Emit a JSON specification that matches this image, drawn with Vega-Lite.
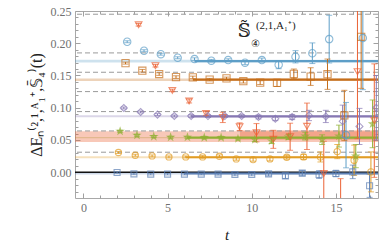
{
"$schema": "https://vega.github.io/schema/vega-lite/v6.json",
"width": 303, "height": 187,
"autosize": "none",
"padding": {"left": 75, "top": 11, "right": 12, "bottom": 50},
"background": "white",
"config": {
 "view": {"stroke": "#a8a8a8", "strokeWidth": 1},
 "axis": {"grid": false, "domain": false, "tickColor": "#a0a0a0", "tickWidth": 1, "labelColor": "#707070", "labelFont": "Liberation Serif", "labelFontSize": 12, "titleFont": "Liberation Serif", "titleFontWeight": "normal", "titleColor": "#222"}
},
"resolve": {"axis": {"x": "independent", "y": "independent"}},
"datasets": {
 "pts": [
  {"s":"1","t":2,"v":-0.0005,"lo":-0.0017,"hi":0.0007},
  {"s":"1","t":3,"v":-0.0026,"lo":-0.0038,"hi":-0.0014},
  {"s":"1","t":4,"v":-0.003,"lo":-0.0042,"hi":-0.0018},
  {"s":"1","t":5,"v":-0.003,"lo":-0.0042,"hi":-0.0018},
  {"s":"1","t":6,"v":-0.003,"lo":-0.0042,"hi":-0.0018},
  {"s":"1","t":7,"v":-0.003,"lo":-0.0042,"hi":-0.0018},
  {"s":"1","t":8,"v":-0.003,"lo":-0.0045,"hi":-0.0015},
  {"s":"1","t":9,"v":-0.0036,"lo":-0.0056,"hi":-0.0016},
  {"s":"1","t":10,"v":-0.0036,"lo":-0.0056,"hi":-0.0016},
  {"s":"1","t":11,"v":-0.0026,"lo":-0.0056,"hi":0.0004},
  {"s":"1","t":12,"v":-0.0057,"lo":-0.0097,"hi":-0.0017},
  {"s":"1","t":13,"v":-0.0015,"lo":-0.0055,"hi":0.0025},
  {"s":"1","t":14,"v":-0.0036,"lo":-0.0096,"hi":0.0024},
  {"s":"1","t":15,"v":-0.002,"lo":-0.007,"hi":0.003},
  {"s":"1","t":16,"v":0.0005,"lo":-0.01,"hi":0.011},
  {"s":"1","t":17,"v":-0.021,"lo":-0.039,"hi":-0.003},
  {"s":"2","t":2.08,"v":0.0305,"lo":0.029,"hi":0.032},
  {"s":"2","t":3.08,"v":0.0263,"lo":0.0248,"hi":0.0278},
  {"s":"2","t":4.08,"v":0.0253,"lo":0.0238,"hi":0.0268},
  {"s":"2","t":5.08,"v":0.0237,"lo":0.0222,"hi":0.0252},
  {"s":"2","t":6.08,"v":0.0237,"lo":0.0222,"hi":0.0252},
  {"s":"2","t":7.08,"v":0.0237,"lo":0.0217,"hi":0.0257},
  {"s":"2","t":8.08,"v":0.0248,"lo":0.0228,"hi":0.0268},
  {"s":"2","t":9.08,"v":0.0206,"lo":0.0186,"hi":0.0226},
  {"s":"2","t":10.08,"v":0.0196,"lo":0.0171,"hi":0.0221},
  {"s":"2","t":11.08,"v":0.0206,"lo":0.0176,"hi":0.0236},
  {"s":"2","t":12.08,"v":0.0232,"lo":0.0202,"hi":0.0262},
  {"s":"2","t":13.08,"v":0.0237,"lo":0.0197,"hi":0.0277},
  {"s":"2","t":14.08,"v":0.0237,"lo":0.0159,"hi":0.0315},
  {"s":"2","t":15.08,"v":0.032,"lo":0.021,"hi":0.043},
  {"s":"2","t":16.08,"v":0.0185,"lo":-0.005,"hi":0.042},
  {"s":"2","t":17.08,"v":0.0005,"lo":-0.0305,"hi":0.0315},
  {"s":"3","t":2.18,"v":0.0635,"lo":0.062,"hi":0.065},
  {"s":"3","t":3.18,"v":0.0573,"lo":0.0558,"hi":0.0588},
  {"s":"3","t":4.18,"v":0.0552,"lo":0.0537,"hi":0.0567},
  {"s":"3","t":5.18,"v":0.0542,"lo":0.0527,"hi":0.0557},
  {"s":"3","t":6.18,"v":0.0542,"lo":0.0527,"hi":0.0557},
  {"s":"3","t":7.18,"v":0.0537,"lo":0.0517,"hi":0.0557},
  {"s":"3","t":8.18,"v":0.0537,"lo":0.0517,"hi":0.0557},
  {"s":"3","t":9.18,"v":0.052,"lo":0.05,"hi":0.054},
  {"s":"3","t":10.18,"v":0.0505,"lo":0.0475,"hi":0.0535},
  {"s":"3","t":11.18,"v":0.0485,"lo":0.0445,"hi":0.0525},
  {"s":"3","t":12.18,"v":0.0547,"lo":0.0507,"hi":0.0587},
  {"s":"3","t":13.18,"v":0.056,"lo":0.05,"hi":0.062},
  {"s":"3","t":14.18,"v":0.0505,"lo":0.043,"hi":0.058},
  {"s":"3","t":15.18,"v":0.056,"lo":0.039,"hi":0.073},
  {"s":"3","t":16.18,"v":0.025,"lo":0.007,"hi":0.043},
  {"s":"3","t":17.18,"v":0.075,"lo":0.038,"hi":0.112},
  {"s":"4","t":3.28,"v":0.2286,"lo":0.2266,"hi":0.2306},
  {"s":"4","t":4.28,"v":0.1651,"lo":0.1631,"hi":0.1671},
  {"s":"4","t":5.28,"v":0.1269,"lo":0.1249,"hi":0.1289},
  {"s":"4","t":6.28,"v":0.1104,"lo":0.1074,"hi":0.1134},
  {"s":"4","t":7.28,"v":0.0912,"lo":0.0882,"hi":0.0942},
  {"s":"4","t":8.28,"v":0.085,"lo":0.077,"hi":0.093},
  {"s":"4","t":9.28,"v":0.0705,"lo":0.0645,"hi":0.0765},
  {"s":"4","t":10.28,"v":0.0612,"lo":0.047,"hi":0.0754},
  {"s":"4","t":11.28,"v":0.051,"lo":0.037,"hi":0.065},
  {"s":"4","t":12.28,"v":0.055,"lo":0.034,"hi":0.076},
  {"s":"4","t":13.28,"v":0.0712,"lo":0.0352,"hi":0.1072},
  {"s":"4","t":14.28,"v":-0.002,"lo":-0.052,"hi":0.048},
  {"s":"4","t":15.28,"v":-0.06,"lo":-0.11,"hi":-0.01},
  {"s":"4","t":16.28,"v":0.156,"lo":0.052,"hi":0.26},
  {"s":"4","t":17.28,"v":0.08,"lo":-0.008,"hi":0.168},
  {"s":"5","t":2.4,"v":0.0996,"lo":0.0981,"hi":0.1011},
  {"s":"5","t":3.4,"v":0.0934,"lo":0.0919,"hi":0.0949},
  {"s":"5","t":4.4,"v":0.0893,"lo":0.0878,"hi":0.0908},
  {"s":"5","t":5.4,"v":0.0872,"lo":0.0857,"hi":0.0887},
  {"s":"5","t":6.4,"v":0.0872,"lo":0.0852,"hi":0.0892},
  {"s":"5","t":7.4,"v":0.087,"lo":0.085,"hi":0.089},
  {"s":"5","t":8.4,"v":0.087,"lo":0.085,"hi":0.089},
  {"s":"5","t":9.4,"v":0.0872,"lo":0.0852,"hi":0.0892},
  {"s":"5","t":10.4,"v":0.0856,"lo":0.0826,"hi":0.0886},
  {"s":"5","t":11.4,"v":0.083,"lo":0.08,"hi":0.086},
  {"s":"5","t":12.4,"v":0.0856,"lo":0.0816,"hi":0.0896},
  {"s":"5","t":13.4,"v":0.088,"lo":0.08,"hi":0.096},
  {"s":"5","t":14.4,"v":0.0865,"lo":0.077,"hi":0.096},
  {"s":"5","t":15.4,"v":0.079,"lo":0.054,"hi":0.104},
  {"s":"5","t":16.4,"v":0.071,"lo":0.043,"hi":0.099},
  {"s":"5","t":17.4,"v":0.1,"lo":0.05,"hi":0.15},
  {"s":"6","t":2.5,"v":0.1692,"lo":0.1677,"hi":0.1707},
  {"s":"6","t":3.5,"v":0.1574,"lo":0.1554,"hi":0.1594},
  {"s":"6","t":4.5,"v":0.1522,"lo":0.1502,"hi":0.1542},
  {"s":"6","t":5.5,"v":0.1475,"lo":0.1455,"hi":0.1495},
  {"s":"6","t":6.5,"v":0.147,"lo":0.145,"hi":0.149},
  {"s":"6","t":7.5,"v":0.1435,"lo":0.1415,"hi":0.1455},
  {"s":"6","t":8.5,"v":0.1455,"lo":0.1435,"hi":0.1475},
  {"s":"6","t":9.5,"v":0.1413,"lo":0.1383,"hi":0.1443},
  {"s":"6","t":10.5,"v":0.1389,"lo":0.1359,"hi":0.1419},
  {"s":"6","t":11.5,"v":0.1385,"lo":0.133,"hi":0.144},
  {"s":"6","t":12.5,"v":0.1525,"lo":0.145,"hi":0.16},
  {"s":"6","t":13.5,"v":0.1483,"lo":0.1346,"hi":0.162},
  {"s":"6","t":14.5,"v":0.152,"lo":0.1285,"hi":0.1755},
  {"s":"6","t":15.5,"v":0.088,"lo":0.049,"hi":0.127},
  {"s":"6","t":16.5,"v":0.21,"lo":0.13,"hi":0.29},
  {"s":"7","t":2.6,"v":0.2023,"lo":0.2008,"hi":0.2038},
  {"s":"7","t":3.6,"v":0.1884,"lo":0.1869,"hi":0.1899},
  {"s":"7","t":4.6,"v":0.183,"lo":0.1815,"hi":0.1845},
  {"s":"7","t":5.6,"v":0.1775,"lo":0.176,"hi":0.179},
  {"s":"7","t":6.6,"v":0.1754,"lo":0.1734,"hi":0.1774},
  {"s":"7","t":7.6,"v":0.1729,"lo":0.1709,"hi":0.1749},
  {"s":"7","t":8.6,"v":0.1739,"lo":0.1719,"hi":0.1759},
  {"s":"7","t":9.6,"v":0.1698,"lo":0.1668,"hi":0.1728},
  {"s":"7","t":10.6,"v":0.1739,"lo":0.1709,"hi":0.1769},
  {"s":"7","t":11.6,"v":0.1667,"lo":0.1605,"hi":0.1729},
  {"s":"7","t":12.6,"v":0.179,"lo":0.1695,"hi":0.1885},
  {"s":"7","t":13.6,"v":0.1845,"lo":0.1685,"hi":0.2005},
  {"s":"7","t":14.6,"v":0.2064,"lo":0.1694,"hi":0.2434},
  {"s":"7","t":15.6,"v":0.0575,"lo":0.0068,"hi":0.1082},
  {"s":"7","t":16.6,"v":0.208,"lo":0.128,"hi":0.288}
 ],
 "fits": [
  {"s":"1","c":-0.002,"lo":-0.0035,"hi":-0.0005,"tmin":6.0},
  {"s":"2","c":0.0232,"lo":0.0217,"hi":0.0247,"tmin":6.1},
  {"s":"3","c":0.0537,"lo":0.0527,"hi":0.0547,"tmin":6.2},
  {"s":"5","c":0.0867,"lo":0.0852,"hi":0.0882,"tmin":6.4},
  {"s":"6","c":0.1435,"lo":0.1415,"hi":0.1455,"tmin":6.5},
  {"s":"7","c":0.1723,"lo":0.1703,"hi":0.1743,"tmin":6.6}
 ],
 "band": [
  {"s":"4","part":"all","lo":0.047,"hi":0.0635,"tmin":-0.5},
  {"s":"4","part":"fit","lo":0.0505,"hi":0.065,"tmin":9.3}
 ],
 "dash": [{"v":0.245},{"v":0.185},{"v":0.155},{"v":0.125},{"v":0.094},{"v":0.064},{"v":0.031}],
 "zero": [{"v":0}],
 "notes": [
  {"part":"main","t":9.55,"v":0.2175,"label":"𝕊̃"},
  {"part":"sub","t":10.2,"v":0.1985,"label":"④"},
  {"part":"sup","t":10.25,"v":0.2265,"label":"(2,1,A₁⁺)"}
 ]
},
"layer": [
 {"data": {"name": "fits"}, "mark": {"type": "rect", "opacity": 0.3},
  "encoding": {
   "x": {"datum": -0.5, "type": "quantitative", "scale": {"domain": [-0.5, 17.5], "nice": false, "zero": false}, "axis": null},
   "x2": {"datum": 17.5},
   "y": {"field": "lo", "type": "quantitative", "scale": {"domain": [-0.04, 0.25], "nice": false, "zero": false}, "axis": null},
   "y2": {"field": "hi"},
   "color": {"field": "s", "type": "nominal", "legend": null, "scale": {"domain": ["1","2","3","4","5","6","7"], "range": ["#5E81B5","#E19C24","#8FB032","#EB6235","#8778B3","#C56E1A","#5D9EC7"]}}
  }},
 {"data": {"name": "band"}, "mark": {"type": "rect", "opacity": 0.35, "color": "#EB6235"},
  "encoding": {
   "x": {"field": "tmin", "type": "quantitative", "axis": null},
   "x2": {"datum": 17.5},
   "y": {"field": "lo", "type": "quantitative", "axis": null},
   "y2": {"field": "hi"}
  }},
 {"data": {"name": "dash"}, "mark": {"type": "rule", "color": "#9a9a9a", "strokeDash": [5, 3], "strokeWidth": 1},
  "encoding": {
   "y": {"field": "v", "type": "quantitative", "axis": {"orient": "left", "values": [0, 0.05, 0.1, 0.15, 0.2, 0.25], "format": ".2f", "tickSize": -5, "labelPadding": 9, "title": "ΔEₙ⁽²,¹,ᴬ₁⁺,𝕊̄₄⁾(t)", "titleFontSize": 16, "titlePadding": 6}}
  }},
 {"data": {"name": "zero"}, "mark": {"type": "rule", "color": "#111", "strokeWidth": 1.4},
  "encoding": {"y": {"field": "v", "type": "quantitative", "axis": null}}},
 {"data": {"name": "fits"}, "mark": {"type": "rule", "strokeWidth": 2.2},
  "encoding": {
   "x": {"field": "tmin", "type": "quantitative", "axis": null},
   "x2": {"datum": 17.5},
   "y": {"field": "c", "type": "quantitative", "axis": null},
   "color": {"field": "s", "type": "nominal", "legend": null}
  }},
 {"data": {"name": "pts"}, "mark": {"type": "rule", "strokeWidth": 1, "clip": true},
  "encoding": {
   "x": {"field": "t", "type": "quantitative", "axis": {"orient": "bottom", "values": [0, 5, 10, 15], "tickSize": -5, "labelPadding": 9, "title": "t", "titleFontStyle": "italic", "titleFontSize": 15, "titlePadding": 14}},
   "y": {"field": "lo", "type": "quantitative", "axis": {"orient": "left", "values": [-0.03,-0.02,-0.01,0.01,0.02,0.03,0.04,0.06,0.07,0.08,0.09,0.11,0.12,0.13,0.14,0.16,0.17,0.18,0.19,0.21,0.22,0.23,0.24], "tickSize": -3, "labels": false, "title": null}},
   "y2": {"field": "hi"},
   "color": {"field": "s", "type": "nominal", "legend": null}
  }},
 {"data": {"name": "pts"}, "mark": {"type": "tick", "orient": "horizontal", "size": 6, "thickness": 1, "clip": true},
  "encoding": {
   "x": {"field": "t", "type": "quantitative", "axis": {"orient": "bottom", "values": [1,2,3,4,6,7,8,9,11,12,13,14,16,17], "tickSize": -3, "labels": false, "title": null}},
   "y": {"field": "lo", "type": "quantitative", "axis": {"orient": "right", "values": [0, 0.05, 0.1, 0.15, 0.2, 0.25], "tickSize": -5, "labels": false, "title": null}},
   "color": {"field": "s", "type": "nominal", "legend": null}
  }},
 {"data": {"name": "pts"}, "mark": {"type": "tick", "orient": "horizontal", "size": 6, "thickness": 1, "clip": true},
  "encoding": {
   "x": {"field": "t", "type": "quantitative", "axis": {"orient": "top", "values": [0, 5, 10, 15], "tickSize": -5, "labels": false, "title": null}},
   "y": {"field": "hi", "type": "quantitative", "axis": {"orient": "right", "values": [-0.03,-0.02,-0.01,0.01,0.02,0.03,0.04,0.06,0.07,0.08,0.09,0.11,0.12,0.13,0.14,0.16,0.17,0.18,0.19,0.21,0.22,0.23,0.24], "tickSize": -3, "labels": false, "title": null}},
   "color": {"field": "s", "type": "nominal", "legend": null}
  }},
 {"data": {"name": "pts"}, "mark": {"type": "point", "filled": false, "strokeWidth": 1.1, "clip": true},
  "encoding": {
   "x": {"field": "t", "type": "quantitative", "axis": {"orient": "top", "values": [1,2,3,4,6,7,8,9,11,12,13,14,16,17], "tickSize": -3, "labels": false, "title": null}},
   "y": {"field": "v", "type": "quantitative", "axis": null},
   "color": {"field": "s", "type": "nominal", "legend": null},
   "shape": {"field": "s", "type": "nominal", "legend": null, "scale": {"domain": ["1","2","3","4","5","6","7"], "range": ["square", "circle", "M0,-1L0.2245,-0.309L0.951,-0.309L0.363,0.118L0.588,0.809L0,0.382L-0.588,0.809L-0.363,0.118L-0.951,-0.309L-0.2245,-0.309Z", "triangle-down", "diamond", "square", "circle"]}},
   "size": {"field": "s", "type": "nominal", "legend": null, "scale": {"domain": ["1","2","3","4","5","6","7"], "range": [36, 55, 50, 36, 30, 40, 22]}}
  }},
 {"data": {"name": "notes"}, "transform": [{"filter": "datum.part === 'main'"}],
  "mark": {"type": "text", "font": "DejaVu Serif", "fontSize": 18, "align": "center", "baseline": "middle", "color": "#222"},
  "encoding": {"x": {"field": "t", "type": "quantitative", "axis": null}, "y": {"field": "v", "type": "quantitative", "axis": null}, "text": {"field": "label"}}},
 {"data": {"name": "notes"}, "transform": [{"filter": "datum.part === 'sub'"}],
  "mark": {"type": "text", "font": "DejaVu Serif", "fontSize": 10, "align": "center", "baseline": "middle", "color": "#222"},
  "encoding": {"x": {"field": "t", "type": "quantitative", "axis": null}, "y": {"field": "v", "type": "quantitative", "axis": null}, "text": {"field": "label"}}},
 {"data": {"name": "notes"}, "transform": [{"filter": "datum.part === 'sup'"}],
  "mark": {"type": "text", "font": "Liberation Serif", "fontSize": 11, "align": "left", "baseline": "middle", "color": "#222"},
  "encoding": {"x": {"field": "t", "type": "quantitative", "axis": null}, "y": {"field": "v", "type": "quantitative", "axis": null}, "text": {"field": "label"}}}
]
}
